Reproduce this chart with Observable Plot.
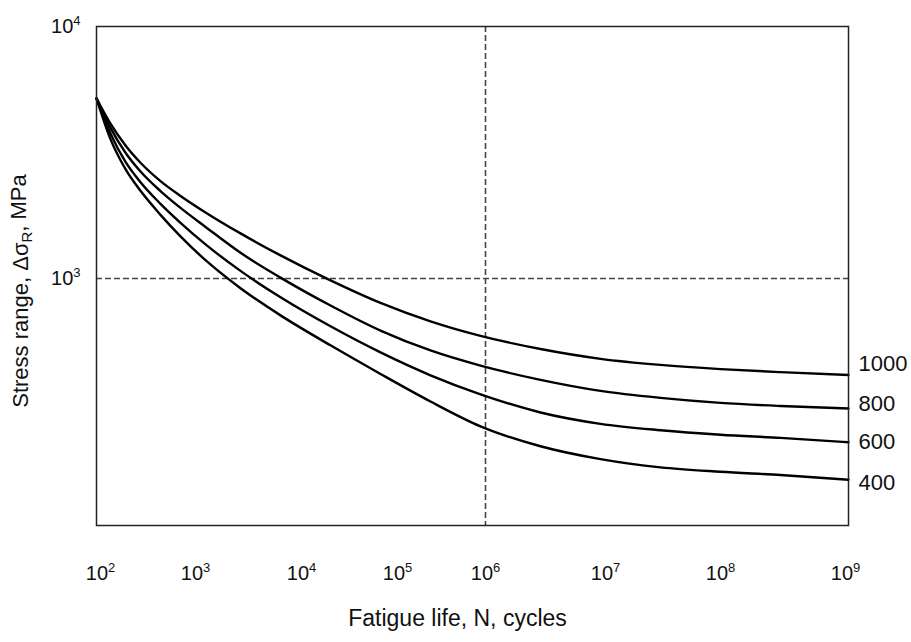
<!DOCTYPE html>
<html>
<head>
<meta charset="utf-8">
<script src="https://cdn.jsdelivr.net/npm/d3@7"></script>
<script src="https://cdn.jsdelivr.net/npm/@observablehq/plot@0.6"></script>
<style>
  body { margin: 0; background: #fff; }
  #chart svg { display: block; }
</style>
</head>
<body>
<div id="chart"></div>
<script>
// Fatigue life N (cycles) at which the curves were read
const cycles = [90.8, 127.4, 183.3, 263.7, 428.1, 695.4, 1243, 2658, 6339, 20050, 66530,
  237100, 877600, 2873000, 9087000, 30080000, 1e8, 302000000, 1.057e9];
// Stress range (MPa) of each curve at those N values
const stress1000 = [5180, 4115, 3372, 2880, 2435, 2127, 1829, 1510, 1235, 983, 800, 676, 592, 525, 480, 454, 437, 425, 414];
const stress800  = [5180, 3960, 3156, 2659, 2223, 1906, 1602, 1265, 1008, 781, 621, 518, 451, 396, 358, 336, 321, 312, 305];
const stress600  = [5180, 3762, 2900, 2410, 1978, 1663, 1366, 1072, 842, 646, 509, 413, 347, 294, 265, 250, 240, 233, 224];
const stress400  = [5180, 3574, 2717, 2228, 1789, 1469, 1182, 915, 714, 543, 418, 325, 259, 216, 192, 178, 171, 166, 159];
const curveNames = ["1000", "800", "600", "400"];
// stress level at which each curve's label sits on the right
const labelStress = [460, 319, 224, 155];
const xTicks = [1e2, 1e3, 1e4, 1e5, 1e6, 1e7, 1e8, 1e9];
const yTicks = [1e3, 1e4];
const refCycles = [1e6];
const refStress = [1e3];
const xLabel = "Fatigue life, N, cycles";
const yLabel = "Stress range, ΔσR, MPa";

const series = [stress1000, stress800, stress600, stress400];
const data = series.flatMap((vals, k) => vals.map((s, i) => ({curve: curveNames[k], n: cycles[i], s})));
const labels = curveNames.map((t, i) => ({t, s: labelStress[i]}));

const pow = d => "10^" + Math.round(Math.log10(d));

const chart = Plot.plot({
  width: 911,
  height: 642,
  marginLeft: 96,
  marginRight: 63,
  marginTop: 26,
  marginBottom: 117,
  style: {fontFamily: "'Liberation Sans', Arial, sans-serif", fontSize: "20px", color: "#111", background: "#fff"},
  x: {type: "log", domain: xTicks, range: [100, 195, 301, 397, 485, 605, 720, 845],
      ticks: xTicks, tickFormat: pow, tickSize: 0, tickPadding: 40, label: null},
  y: {type: "log", domain: [1e3, 1e4], range: [278, 26],
      ticks: yTicks, tickFormat: pow, tickSize: 0, tickPadding: 16, label: null},
  marks: [
    Plot.ruleX(refCycles, {stroke: "#444", strokeWidth: 1.6, strokeDasharray: "6,3"}),
    Plot.ruleY(refStress, {stroke: "#444", strokeWidth: 1.6, strokeDasharray: "6,3"}),
    Plot.line(data, {x: "n", y: "s", z: "curve", stroke: "#000", strokeWidth: 2.4, curve: "monotone-x"}),
    Plot.frame({stroke: "#222", strokeWidth: 1.5}),
    Plot.text(labels, {y: "s", text: "t", frameAnchor: "right", dx: 10, textAnchor: "start", fontSize: 22, fill: "#111"}),
    Plot.text([yLabel], {frameAnchor: "left", textAnchor: "middle", rotate: -90, dx: -76, dy: 15, fontSize: 22, fill: "#111"}),
    Plot.text([xLabel], {frameAnchor: "bottom", textAnchor: "middle", dx: -15, dy: 100, fontSize: 23, fill: "#111"})
  ]
});

const svg = d3.select(chart);
// powers of ten with a real superscript
svg.selectAll("text").filter(function () { return /^10\^\d$/.test(this.textContent); })
  .each(function () {
    const t = d3.select(this);
    const k = this.textContent.slice(3);
    t.style("font-size", "20px").style("fill", "#111").text("10");
    t.append("tspan").attr("dy", "-8").style("font-size", "13px").text(k);
  });
// subscript R in the y-axis label
svg.selectAll("text").filter(function () { return this.textContent === yLabel; })
  .each(function () {
    const t = d3.select(this);
    t.text("Stress range, Δσ");
    t.append("tspan").attr("dy", "0.28em").style("font-size", "15px").text("R");
    t.append("tspan").attr("dy", "-0.28em").text(", MPa");
  });

document.getElementById("chart").appendChild(chart);
</script>
</body>
</html>
